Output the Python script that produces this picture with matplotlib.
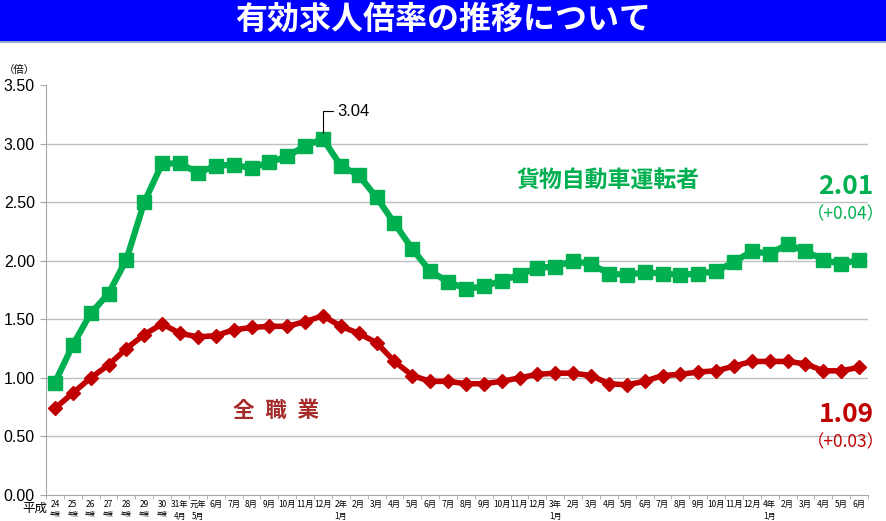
import matplotlib
matplotlib.use('Agg')
import matplotlib.pyplot as plt
import numpy as np

plt.rcParams['font.family'] = ['Noto Sans CJK JP', 'DejaVu Sans']

# 軸ラベル(上段・下段)
label_top = ['24', '25', '26', '27', '28', '29', '30', '31年', '元年',
             '6月', '7月', '8月', '9月', '10月', '11月', '12月',
             '2年', '2月', '3月', '4月', '5月', '6月', '7月', '8月', '9月', '10月', '11月', '12月',
             '3年', '2月', '3月', '4月', '5月', '6月', '7月', '8月', '9月', '10月', '11月', '12月',
             '4年', '2月', '3月', '4月', '5月', '6月']
label_bottom = (['年度'] * 7 + ['4月', '5月'] + [''] * 7 + ['1月'] + [''] * 11
                + ['1月'] + [''] * 11 + ['1月'] + [''] * 5)

# 貨物自動車運転者
truck = [0.96, 1.28, 1.55, 1.72, 2.01, 2.50, 2.83,
         2.83, 2.75, 2.81, 2.82, 2.79, 2.84, 2.89, 2.98, 3.04,
         2.81, 2.73, 2.54, 2.32, 2.10, 1.91, 1.82, 1.76, 1.78, 1.83, 1.88, 1.94,
         1.95, 2.00, 1.97, 1.89, 1.88, 1.90, 1.89, 1.88, 1.89, 1.91, 1.99, 2.08,
         2.06, 2.14, 2.08, 2.01, 1.97, 2.01]
# 全職業
all_jobs = [0.74, 0.87, 1.00, 1.11, 1.25, 1.37, 1.46,
            1.38, 1.35, 1.36, 1.41, 1.43, 1.44, 1.44, 1.48, 1.53,
            1.44, 1.38, 1.30, 1.14, 1.02, 0.97, 0.97, 0.95, 0.95, 0.97, 1.00, 1.03,
            1.04, 1.04, 1.02, 0.95, 0.94, 0.97, 1.02, 1.03, 1.05, 1.06, 1.10, 1.14,
            1.14, 1.14, 1.12, 1.06, 1.06, 1.09]

green = '#00B050'
red = '#C00000'

fig = plt.figure(figsize=(8.86, 5.21), dpi=100)

# タイトル帯
fig.patches.append(plt.Rectangle((0, 1 - 41 / 521), 1, 41 / 521, transform=fig.transFigure,
                                 facecolor='#0000FF', edgecolor='none'))
fig.patches.append(plt.Rectangle((0, 1 - 43 / 521), 1, 2 / 521, transform=fig.transFigure,
                                 facecolor='#8EA9DB', edgecolor='none'))
fig.text(0.5, 1 - 20 / 521, '有効求人倍率の推移について', ha='center', va='center',
         color='white', fontsize=23, fontweight='bold')

ax = fig.add_axes([46 / 886, 1 - 495 / 521, 822 / 886, 410 / 521])
x = np.arange(len(truck))

ax.plot(x, truck, color=green, lw=4.5, marker='s', ms=10.5, zorder=3)
ax.plot(x, all_jobs, color=red, lw=4, marker='D', ms=7, zorder=3)

ax.set_xlim(-0.5, len(truck) - 0.5)
ax.set_ylim(0, 3.5)
ax.set_yticks(np.arange(0, 3.51, 0.5))
ax.set_yticklabels([f'{v:.2f}' for v in np.arange(0, 3.51, 0.5)], fontsize=11.5,
                   family=['Liberation Sans', 'DejaVu Sans'])
ax.yaxis.grid(True, color='#BFBFBF', lw=1)
ax.yaxis.get_gridlines()[-1].set_visible(False)
ax.yaxis.get_gridlines()[0].set_visible(False)
ax.set_axisbelow(True)
for s in ['top', 'right']:
    ax.spines[s].set_visible(False)
for s in ['left', 'bottom']:
    ax.spines[s].set_color('#A6A6A6')
ax.tick_params(axis='y', length=4, color='#A6A6A6', pad=4)

ax.set_xticks(x)
ax.set_xticklabels([])
ax.tick_params(axis='x', which='major', length=0)
ax.set_xticks(np.arange(-0.5, len(truck), 1), minor=True)
ax.tick_params(axis='x', which='minor', length=3, color='#A6A6A6')

xt = ax.get_xaxis_transform()
for i, (t, b) in enumerate(zip(label_top, label_bottom)):
    ax.annotate(t, (i, 0), xycoords=xt, xytext=(0, -3.5), textcoords='offset points',
                ha='center', va='top', fontsize=6)
    if b:
        fs = 4 if b == '年度' else 5.8
        ax.annotate(b, (i, 0), xycoords=xt, xytext=(0, -11.5 if b == '年度' else -12.3),
                    textcoords='offset points', ha='center', va='top', fontsize=fs)
fig.text(22 / 886, 1 - 508 / 521, '平成', ha='left', va='center', fontsize=9)
fig.text(4 / 886, 1 - 70 / 521, '（倍）', ha='left', va='center', fontsize=7.5)

# 注記
peak = int(np.argmax(truck))
ax.annotate(f'{truck[peak]:.2f}', (peak, truck[peak]), xytext=(10, 20), textcoords='offset points',
            ha='left', va='center', fontsize=12, family=['Liberation Sans', 'DejaVu Sans'],
            arrowprops=dict(arrowstyle='-', color='black', lw=0.8, shrinkA=1, shrinkB=4,
                            connectionstyle='angle,angleA=0,angleB=90,rad=0'))

ax.text(608 / 886, 1 - 180 / 521, '貨物自動車運転者', transform=fig.transFigure, ha='center',
        va='center', color=green, fontsize=16.5, fontweight='bold')
ax.text(276 / 886, 1 - 410 / 521, '全\u2002職\u2002業', transform=fig.transFigure, ha='center',
        va='center', color='#A52A2A', fontsize=15.5, fontweight='bold')

ax.text(846 / 886, 1 - 187 / 521, f'{truck[-1]:.2f}', transform=fig.transFigure, ha='center',
        va='center', color=green, fontsize=19, fontweight='bold')
ax.text(846 / 886, 1 - 214 / 521, '（+0.04）', transform=fig.transFigure, ha='center',
        va='center', color=green, fontsize=12.5)
ax.text(846 / 886, 1 - 415 / 521, f'{all_jobs[-1]:.2f}', transform=fig.transFigure, ha='center',
        va='center', color=red, fontsize=19, fontweight='bold')
ax.text(846 / 886, 1 - 442 / 521, '（+0.03）', transform=fig.transFigure, ha='center',
        va='center', color=red, fontsize=12.5)

fig.savefig('out.png', dpi=100)
